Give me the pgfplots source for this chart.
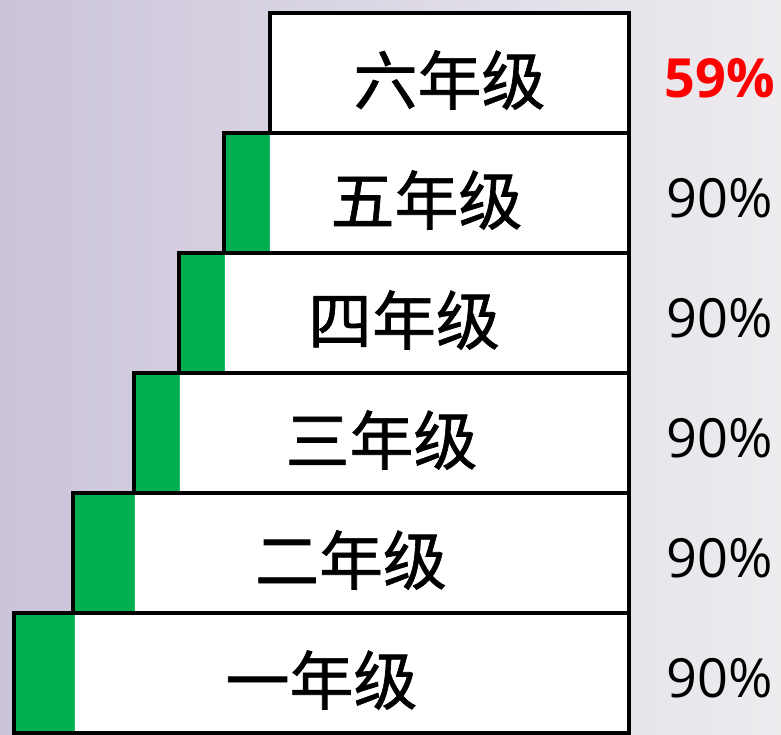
\documentclass[border=0pt]{standalone}
\usepackage{pgfplots}
\pgfplotsset{compat=1.18}
\usepackage{pgfplotstable}
\usepackage{fontspec}
\setmainfont{Open Sans}
\newfontfamily\cjk[FakeBold=1]{Noto Sans CJK SC}

\definecolor{stepgreen}{RGB}{0,176,80}
\definecolor{bgleft}{RGB}{203,196,218}
\definecolor{bgright}{RGB}{238,236,239}

% y = row centre (px from top), full = whole step length, white = white part
\pgfplotstableread{
y   full  white
73  359   359
193 405   359
313 450   404
433 495   449
553 556   494
673 615   554
}\steps

\begin{document}
\begin{tikzpicture}
\begin{axis}[
    scale only axis,
    width=781pt, height=734pt,
    xmin=-152, xmax=629,
    ymin=0, ymax=734,
    x dir=reverse, y dir=reverse,
    axis lines=none,
    axis background/.style={left color=bgleft, right color=bgright},
    xbar, bar shift=0pt, bar width=120,
]
    \addplot[fill=stepgreen, draw=none] table[x=full, y=y] {\steps};
    \addplot[fill=white, draw=none] table[x=white, y=y] {\steps};
    \addplot[fill=none, draw=black, line width=3.5pt] table[x=full, y=y] {\steps};

    \node[font=\cjk\fontsize{64}{70}\selectfont] at (axis cs:179.5,80) {六年级};
    \node[font=\cjk\fontsize{64}{70}\selectfont] at (axis cs:202.5,200) {五年级};
    \node[font=\cjk\fontsize{64}{70}\selectfont] at (axis cs:225,320) {四年级};
    \node[font=\cjk\fontsize{64}{70}\selectfont] at (axis cs:247.5,440) {三年级};
    \node[font=\cjk\fontsize{64}{70}\selectfont] at (axis cs:278,560) {二年级};
    \node[font=\cjk\fontsize{64}{70}\selectfont] at (axis cs:307.5,680) {一年级};

    \node[font=\bfseries\fontsize{54}{60}\selectfont, text=red] at (axis cs:-91,78) {59\%};
    \node[font=\fontsize{54}{60}\selectfont] at (axis cs:-91,198) {90\%};
    \node[font=\fontsize{54}{60}\selectfont] at (axis cs:-91,318) {90\%};
    \node[font=\fontsize{54}{60}\selectfont] at (axis cs:-91,438) {90\%};
    \node[font=\fontsize{54}{60}\selectfont] at (axis cs:-91,558) {90\%};
    \node[font=\fontsize{54}{60}\selectfont] at (axis cs:-91,678) {90\%};
\end{axis}
\end{tikzpicture}
\end{document}
